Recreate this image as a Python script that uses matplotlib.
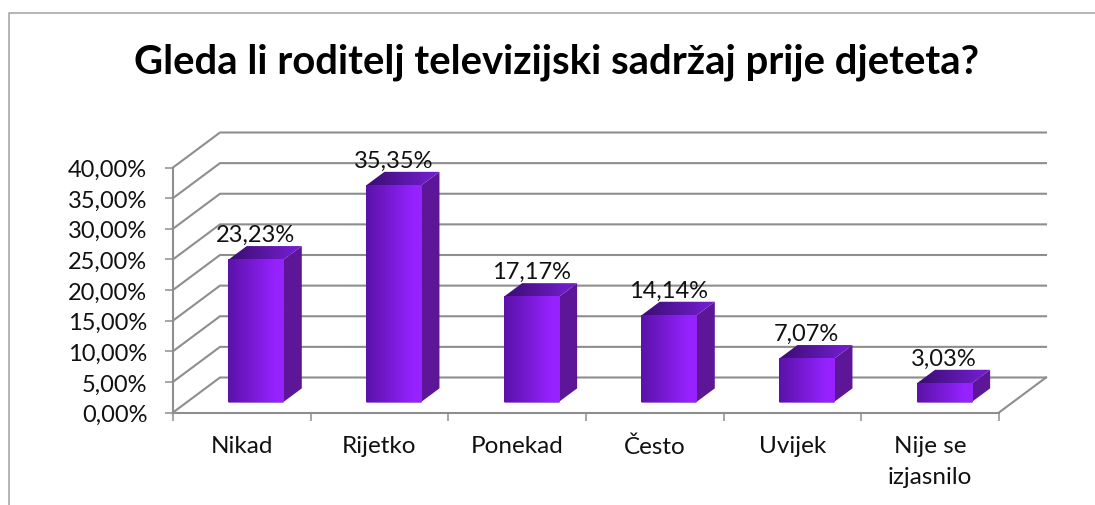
import numpy as np
import matplotlib
matplotlib.use("Agg")
import matplotlib.pyplot as plt
from matplotlib.lines import Line2D
from matplotlib.patches import Polygon

plt.rcParams["font.family"] = ["Lato", "DejaVu Sans"]

TITLE = "Gleda li roditelj televizijski sadržaj prije djeteta?"
CATS = ["Nikad", "Rijetko", "Ponekad", "Često", "Uvijek", "Nije se\nizjasnilo"]
VALS = [23.23, 35.35, 17.17, 14.14, 7.07, 3.03]
YTICKS = [0, 5, 10, 15, 20, 25, 30, 35, 40]

W, H = 1095, 506
X0, X1, Y0, Y1 = 173, 999, 413.5, 168.5  # front plane of the 3d box, px
DEPTH_X = 47 / 137.67                    # full box depth in category units
DEPTH_Y = 35 / 245 * 40                  # full box depth in percent units
BAR_W = 0.40
BAR_D0, BAR_D1 = 0.30, 0.69              # bar front / back, fraction of depth
GRID = "#8e8e8e"
FS = 17


def fmt(v):
    return f"{v:.2f}".replace(".", ",") + "%"


def gradient(ax, c0, c1, extent, clip=None, z=3):
    c0, c1 = np.array(matplotlib.colors.to_rgb(c0)), np.array(matplotlib.colors.to_rgb(c1))
    t = np.clip(np.linspace(0, 1.18, 64), 0, 1)[None, :, None]
    im = ax.imshow(c0 + (c1 - c0) * t, extent=extent, aspect="auto", origin="lower",
                   zorder=z, interpolation="bilinear")
    if clip is not None:
        im.set_clip_path(clip)
    return im


def bar3d(ax, i, v):
    c = i + 0.5 + BAR_D0 * DEPTH_X
    xl, xr = c - BAR_W / 2, c + BAR_W / 2
    yb = BAR_D0 * DEPTH_Y
    yt = v + yb
    dx, dy = (BAR_D1 - BAR_D0) * DEPTH_X, (BAR_D1 - BAR_D0) * DEPTH_Y
    # side
    ax.add_patch(Polygon([(xr, yb), (xr + dx, yb + dy), (xr + dx, yt + dy), (xr, yt)],
                         fc="#5e1699", ec="none", zorder=3))
    # top
    top = Polygon([(xl, yt), (xr, yt), (xr + dx, yt + dy), (xl + dx, yt + dy)],
                  fc="none", ec="none", transform=ax.transData, zorder=3)
    ax.add_patch(top)
    gradient(ax, "#3a0d70", "#6f1dc8", (xl, xr + dx, yt, yt + dy), clip=top)
    # front
    gradient(ax, "#5a12a8", "#9522ff", (xl, xr, yb, yt), z=4)
    ax.plot([xl, xr], [yb, yb], color="#8a50d0", lw=0.6, zorder=5, solid_capstyle="butt")
    ax.annotate(fmt(v), (c, yt), xytext=(0, 13.7), textcoords="offset points",
                ha="center", va="baseline", fontsize=FS, color="#111111", zorder=6,
                annotation_clip=False)


def main():
    fig = plt.figure(figsize=(W / 100, H / 100), dpi=100, facecolor="white")
    ax = fig.add_axes([X0 / W, 1 - Y0 / H, (X1 - X0) / W, (Y0 - Y1) / H])
    n = len(CATS)

    # chart frame: only top and left edges are in the crop
    fig.add_artist(Line2D([9 / W, 9 / W, 1], [0, 1 - 14 / H, 1 - 14 / H],
                          color="#a0a0a0", lw=1.1))

    # walls and floor
    for v in YTICKS:
        ax.plot([0, DEPTH_X, n + DEPTH_X], [v, v + DEPTH_Y, v + DEPTH_Y], color=GRID,
                lw=1.5, zorder=1, clip_on=False, solid_joinstyle="miter")
    ax.plot([n, n + DEPTH_X], [0, DEPTH_Y], color=GRID, lw=1.5, zorder=1, clip_on=False)

    for i, v in enumerate(VALS):
        bar3d(ax, i, v)

    ax.set_xlim(0, n)
    ax.set_ylim(0, 40)
    ax.patch.set_visible(False)
    for s in ("top", "right"):
        ax.spines[s].set_visible(False)
    for s in ("left", "bottom"):
        ax.spines[s].set_color(GRID)
        ax.spines[s].set_linewidth(1.5)

    ax.set_yticks(YTICKS, [fmt(v) for v in YTICKS])
    ax.set_xticks(range(n + 1), [""] * (n + 1))
    ax.set_xticks(np.arange(n) + 0.5, CATS, minor=True)
    ax.tick_params(axis="both", which="major", length=5.5, width=1.1, color=GRID,
                   labelsize=FS, labelcolor="#111111", pad=13)
    ax.tick_params(axis="x", which="minor", length=0, pad=16.5, labelsize=17.5,
                   labelcolor="#111111")
    for t in ax.get_xticklabels(minor=True):
        t.set_linespacing(1.55)

    fig.text(556 / W, 1 - 62 / H, TITLE, ha="center", va="center", fontsize=28.8,
             fontweight="bold", color="black")
    fig.savefig("out.png", dpi=100)


if __name__ == "__main__":
    main()
